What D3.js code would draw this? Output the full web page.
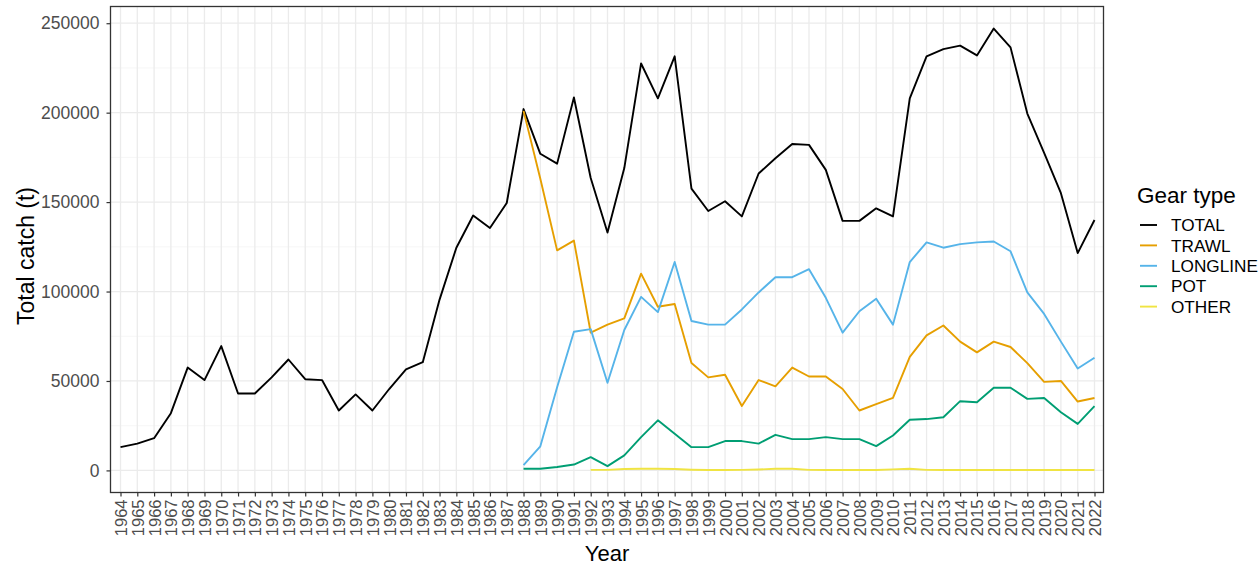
<!DOCTYPE html>
<html><head><meta charset="utf-8">
<script src="https://cdn.jsdelivr.net/npm/d3@7"></script>
<style>body{margin:0;background:#fff}svg{display:block}text{font-family:"Liberation Sans",Arial,sans-serif}</style>
</head><body><svg id="c" width="1258" height="566"></svg>
<script>
const years = [1964,1965,1966,1967,1968,1969,1970,1971,1972,1973,1974,1975,1976,1977,1978,1979,1980,1981,1982,1983,1984,1985,1986,1987,1988,1989,1990,1991,1992,1993,1994,1995,1996,1997,1998,1999,2000,2001,2002,2003,2004,2005,2006,2007,2008,2009,2010,2011,2012,2013,2014,2015,2016,2017,2018,2019,2020,2021,2022];
const gearTypes = ["TOTAL","TRAWL","LONGLINE","POT","OTHER"];
const gearColors = ["#000000","#E69F00","#56B4E9","#009E73","#F0E442"];
const totalStart = 1964;
const total = [13000,15000,18000,32000,57500,50500,69500,43000,43000,52000,62000,51000,50500,33500,42500,33500,45500,56500,60500,95500,124500,142500,135500,149500,202000,177000,171500,208500,163500,133000,169000,227500,208000,231500,157500,145000,150500,142000,166000,174500,182500,182000,168000,139500,139500,146500,142000,208000,231500,235500,237500,232000,247000,236500,199500,177500,155000,121500,140000];
const trawlStart = 1988;
const trawl = [201000,163000,123000,128500,77000,81500,85000,110000,91500,93000,60000,52000,53500,36000,50500,47000,57500,52500,52500,45500,33500,37000,40500,63500,75500,81000,72000,66000,72000,69000,60000,49500,50000,38500,40500];
const longlineStart = 1988;
const longline = [3000,13500,46500,77500,79000,49000,78500,97000,88500,116500,83500,81500,81500,90000,99500,108000,108000,112500,96500,77000,89000,96000,81500,116500,127500,124500,126500,127500,128000,122500,99500,87500,72000,57000,63000];
const potStart = 1988;
const pot = [900,900,1900,3300,7400,2400,8400,18600,28000,20500,13000,13000,16400,16400,15000,19900,17500,17500,18600,17500,17500,13600,19500,28300,28700,29700,38700,38100,46200,46200,40000,40500,32500,26000,35900];
const otherStart = 1992;
const other = [300,300,800,900,900,800,400,200,200,300,500,900,900,300,200,200,200,200,600,900,300,200,200,200,200,200,200,200,200,200,200];
const yTicks = [0,50000,100000,150000,200000,250000];
const yMinor = [25000,75000,125000,175000,225000];

const series = [
  {name:"TOTAL", start:totalStart, values:total},
  {name:"TRAWL", start:trawlStart, values:trawl},
  {name:"LONGLINE", start:longlineStart, values:longline},
  {name:"POT", start:potStart, values:pot},
  {name:"OTHER", start:otherStart, values:other}
].map(s => ({name:s.name, pts:s.values.map((v,i)=>({year:s.start+i, v}))}));

const svg = d3.select("#c");
const P = {l:110.5, r:1103.5, t:6.5, b:492.5};
const x = d3.scalePoint().domain(years).range([120.5, 1094.5]);
const allV = series.flatMap(s=>s.pts.map(p=>p.v));
const vmax = d3.max(allV), vmin = 0;
const pad = (vmax-vmin)*0.05;
const y = d3.scaleLinear().domain([vmin-pad, vmax+pad]).range([P.b, P.t]);
const color = d3.scaleOrdinal().domain(gearTypes).range(gearColors);

const g = svg.append("g");
// grid
g.selectAll(".ymin").data(yMinor).join("line").attr("x1",P.l).attr("x2",P.r)
  .attr("y1",d=>y(d)).attr("y2",d=>y(d)).attr("stroke","#F2F2F2").attr("stroke-width",0.7);
g.selectAll(".ymaj").data(yTicks).join("line").attr("x1",P.l).attr("x2",P.r)
  .attr("y1",d=>y(d)).attr("y2",d=>y(d)).attr("stroke","#EBEBEB").attr("stroke-width",1.3);
g.selectAll(".xmaj").data(years).join("line").attr("y1",P.t).attr("y2",P.b)
  .attr("x1",d=>x(d)).attr("x2",d=>x(d)).attr("stroke","#EBEBEB").attr("stroke-width",1.3);

// lines
const line = d3.line().x(d=>x(d.year)).y(d=>y(d.v));
g.selectAll(".series").data(series).join("path").attr("fill","none")
  .attr("stroke",d=>color(d.name)).attr("stroke-width",1.9).attr("stroke-linejoin","round")
  .attr("d",d=>line(d.pts));

// border
g.append("rect").attr("x",P.l).attr("y",P.t).attr("width",P.r-P.l).attr("height",P.b-P.t)
  .attr("fill","none").attr("stroke","#333333").attr("stroke-width",1.3);

// axes
const yAxis = d3.axisLeft(y).tickValues(yTicks).tickSize(4).tickPadding(7).tickFormat(d3.format("d"));
const ya = svg.append("g").attr("transform",`translate(${P.l},0)`).call(yAxis);
ya.select(".domain").remove();
ya.selectAll(".tick line").attr("stroke","#333333").attr("stroke-width",1.2);
ya.selectAll(".tick text").attr("fill","#4D4D4D").style("font-size","17.5px");

const xAxis = d3.axisBottom(x).tickSize(4).tickPadding(2);
const xa = svg.append("g").attr("transform",`translate(0,${P.b})`).call(xAxis);
xa.select(".domain").remove();
xa.selectAll(".tick line").attr("stroke","#333333").attr("stroke-width",1.2);
xa.selectAll(".tick text").attr("fill","#4D4D4D").style("font-size","16.5px")
  .attr("transform","rotate(-90)").attr("text-anchor","end").attr("dy","0.36em")
  .attr("x",-7).attr("y",0);

// titles
svg.append("text").attr("x",607).attr("y",561).attr("text-anchor","middle")
  .style("font-size","22px").attr("fill","#000").text("Year");
svg.append("text").attr("transform","translate(34,256) rotate(-90)").attr("text-anchor","middle")
  .style("font-size","23px").attr("fill","#000").text("Total catch (t)");

// legend
const lg = svg.append("g").attr("transform","translate(1137,0)");
lg.append("text").attr("x",0).attr("y",203).style("font-size","22.5px").attr("fill","#000").text("Gear type");
const items = lg.selectAll(".li").data(gearTypes).join("g")
  .attr("transform",(d,i)=>`translate(0,${225+i*20.4})`);
items.append("line").attr("x1",3).attr("x2",20).attr("stroke",d=>color(d)).attr("stroke-width",1.9);
items.append("text").attr("x",34).attr("dy","0.36em").style("font-size","17.2px").attr("fill","#000").text(d=>d);
</script></body></html>
